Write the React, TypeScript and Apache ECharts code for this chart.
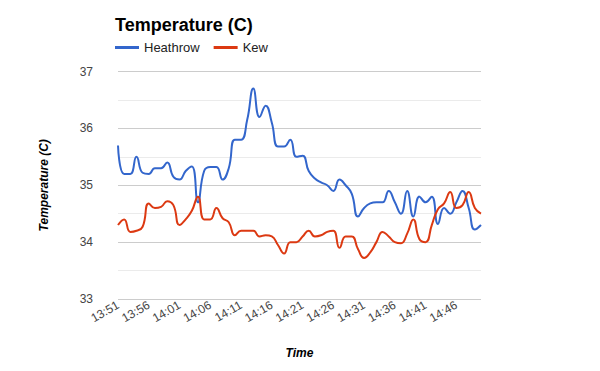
import React, { useEffect, useRef } from "react";
import * as echarts from "echarts";

const times: string[] = [
  "13:51","13:52","13:53","13:54","13:55","13:56","13:57","13:58","13:59","14:00",
  "14:01","14:02","14:03","14:04","14:05","14:06","14:07","14:08","14:09","14:10",
  "14:11","14:12","14:13","14:14","14:15","14:16","14:17","14:18","14:19","14:20",
  "14:21","14:22","14:23","14:24","14:25","14:26","14:27","14:28","14:29","14:30",
  "14:31","14:32","14:33","14:34","14:35","14:36","14:37","14:38","14:39","14:40",
  "14:41","14:42","14:43","14:44","14:45","14:46","14:47","14:48","14:49","14:50",
];

const heathrow: number[] = [
  35.7, 35.2, 35.2, 35.5, 35.22, 35.2, 35.3, 35.3, 35.4, 35.15,
  35.1, 35.25, 35.33, 34.7, 35.25, 35.32, 35.32, 35.1, 35.3, 35.8,
  35.8, 36.15, 36.7, 36.2, 36.4, 36.1, 35.68, 35.68, 35.8, 35.5,
  35.52, 35.25, 35.12, 35.05, 35.0, 34.9, 35.1, 35.0, 34.85, 34.45,
  34.6, 34.68, 34.7, 34.7, 34.9, 34.7, 34.5, 34.9, 34.45, 34.8,
  34.7, 34.8, 34.32, 34.6, 34.5, 34.7, 34.9, 34.6, 34.22, 34.3,
];

const kew: number[] = [
  34.3, 34.4, 34.18, 34.2, 34.27, 34.68, 34.6, 34.62, 34.72, 34.65,
  34.3, 34.4, 34.55, 34.8, 34.4, 34.4, 34.6, 34.42, 34.35, 34.12,
  34.2, 34.2, 34.2, 34.1, 34.12, 34.1, 33.95, 33.8, 34.0, 34.0,
  34.1, 34.2, 34.1, 34.12, 34.18, 34.2, 33.9, 34.1, 34.1, 33.88,
  33.72, 33.82, 34.0, 34.18, 34.1, 34.0, 33.98, 34.15, 34.4, 34.05,
  34.0, 34.3, 34.58, 34.68, 34.88, 34.6, 34.65, 34.88, 34.6, 34.5,
];

const FONT = "'Liberation Sans', Arial, sans-serif";

export default function App() {
  const ref = useRef<HTMLDivElement>(null);
  useEffect(() => {
    if (!ref.current) return;
    const chart = echarts.init(ref.current, undefined, { renderer: "svg" });
    chart.setOption({
      animation: false,
      backgroundColor: "#ffffff",
      textStyle: { fontFamily: FONT },
      title: {
        text: "Temperature (C)",
        left: 115,
        top: 16,
        padding: 0,
        textStyle: { fontSize: 18, fontWeight: "bold", color: "#000", fontFamily: FONT },
      },
      legend: {
        left: 115,
        top: 41,
        padding: 0,
        icon: "rect",
        itemWidth: 24,
        itemHeight: 3,
        itemGap: 14,
        textStyle: { fontSize: 13, color: "#222", fontFamily: FONT },
        data: ["Heathrow", "Kew"],
      },
      grid: { left: 118, right: 119, top: 71.5, bottom: 72, containLabel: false },
      xAxis: {
        type: "category",
        data: times,
        boundaryGap: false,
        name: "Time",
        nameLocation: "middle",
        nameGap: 48,
        nameTextStyle: { fontStyle: "italic", fontWeight: "bold", fontSize: 12, color: "#000", fontFamily: FONT },
        axisLine: { show: false },
        axisTick: { show: false },
        splitLine: { show: false },
        axisLabel: {
          interval: 4,
          rotate: 30,
          margin: 5,
          fontSize: 12,
          color: "#444",
          fontFamily: FONT,
          padding: [0, 0, 0, 0],
        },
      },
      yAxis: {
        type: "value",
        min: 33,
        max: 37,
        interval: 1,
        name: "Temperature (C)",
        nameLocation: "middle",
        nameGap: 68,
        nameTextStyle: { fontStyle: "italic", fontWeight: "bold", fontSize: 12, color: "#000", fontFamily: FONT },
        axisLine: { show: false },
        axisTick: { show: false },
        axisLabel: { fontSize: 12, color: "#444", margin: 25, fontFamily: FONT },
        splitLine: { lineStyle: { color: "#cccccc", width: 1 } },
        minorTick: { show: false, splitNumber: 2 },
        minorSplitLine: { show: true, lineStyle: { color: "#ebebeb", width: 1 } },
      },
      series: [
        {
          name: "Heathrow",
          type: "line",
          data: heathrow,
          smooth: 0.5,
          showSymbol: false,
          symbol: "none",
          lineStyle: { width: 2, color: "#3366cc" },
          itemStyle: { color: "#3366cc" },
        },
        {
          name: "Kew",
          type: "line",
          data: kew,
          smooth: 0.5,
          showSymbol: false,
          symbol: "none",
          lineStyle: { width: 2, color: "#dc3912" },
          itemStyle: { color: "#dc3912" },
        },
      ],
    });
    return () => chart.dispose();
  }, []);
  return <div ref={ref} style={{ width: 600, height: 371, position: "absolute", left: 0, top: 0 }} />;
}
